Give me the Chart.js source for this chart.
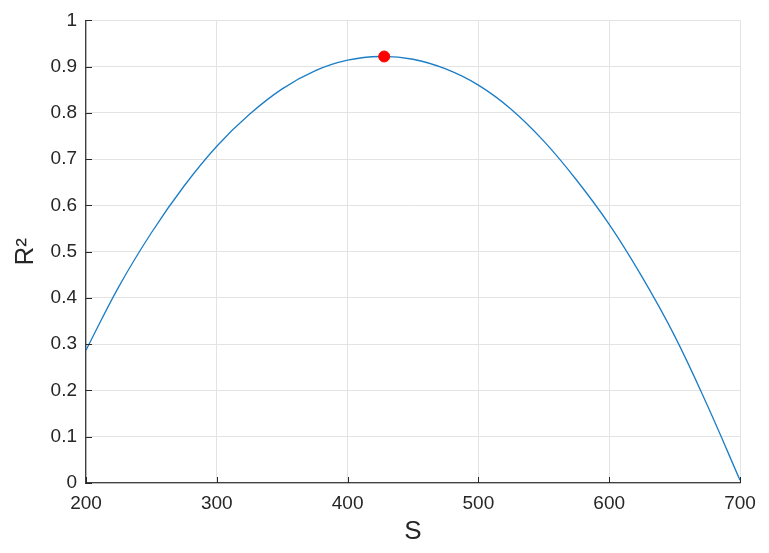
<!DOCTYPE html>
<html>
<head>
<meta charset="utf-8">
<script src="https://cdn.jsdelivr.net/npm/chart.js@4"></script>
<style>
    html, body { margin: 0; padding: 0; background: #fff; }
    #chart { display: block; }
</style>
</head>
<body>
<canvas id="chart" width="769" height="553"></canvas>
<script>
// 曲線數據 (S, R^2)
const sValues = [200, 225, 250, 275, 300, 325, 350, 375, 400, 425, 450, 475, 500, 525, 550, 575, 600, 625, 650, 675, 700];
const r2Values = [0.287, 0.424, 0.541, 0.642, 0.728, 0.797, 0.852, 0.891, 0.914, 0.922, 0.916, 0.895, 0.860, 0.808, 0.739, 0.655, 0.559, 0.446, 0.318, 0.168, 0.006];
// 最大值點
const peakS = [428];
const peakR2 = [0.922];

const axisColor = '#262626';
const gridColor = '#e3e3e3';
const font = 'Arial, "Liberation Sans", Helvetica, sans-serif';

// MATLAB 風格的內側刻度
const innerTicks = {
    id: 'innerTicks',
    afterDraw(chart) {
        const ctx = chart.ctx;
        const x = chart.scales.x, y = chart.scales.y;
        ctx.save();
        ctx.strokeStyle = axisColor;
        ctx.lineWidth = 1;
        ctx.beginPath();
        x.ticks.forEach(t => {
            const px = Math.round(x.getPixelForValue(t.value)) + 0.5;
            ctx.moveTo(px, y.bottom);
            ctx.lineTo(px, y.bottom - 6);
        });
        y.ticks.forEach(t => {
            const py = Math.round(y.getPixelForValue(t.value)) + 0.5;
            ctx.moveTo(x.left, py);
            ctx.lineTo(x.left + 6, py);
        });
        ctx.stroke();
        ctx.restore();
    }
};

new Chart(document.getElementById('chart'), {
    type: 'scatter',
    data: {
        datasets: [{
            data: sValues.map((s, i) => ({ x: s, y: r2Values[i] })),
            showLine: true,
            borderColor: '#1a7dc6',
            borderWidth: 1.3,
            pointRadius: 0,
            tension: 0.4,
            order: 2
        }, {
            data: peakS.map((s, i) => ({ x: s, y: peakR2[i] })),
            backgroundColor: '#ff0000',
            borderColor: '#ff0000',
            pointRadius: 5.5,
            order: 1
        }]
    },
    options: {
        responsive: false,
        animation: false,
        layout: { padding: { top: 20, right: 29, left: 0, bottom: 0 } },
        plugins: {
            legend: { display: false },
            tooltip: { enabled: false }
        },
        scales: {
            x: {
                type: 'linear',
                min: 200,
                max: 700,
                afterFit: s => { s.height = 70; },
                ticks: {
                    stepSize: 100,
                    padding: 9,
                    color: axisColor,
                    font: { family: font, size: 19 }
                },
                grid: { color: gridColor, drawTicks: false },
                border: { color: '#404040', width: 1.3 },
                title: {
                    display: true,
                    text: 'S',
                    color: axisColor,
                    padding: { top: 0, bottom: 6 },
                    font: { family: font, size: 26 }
                }
            },
            y: {
                min: 0,
                max: 1,
                afterFit: s => { s.width = 86; },
                ticks: {
                    stepSize: 0.1,
                    padding: 9,
                    color: axisColor,
                    font: { family: font, size: 19 },
                    callback: v => String(+v.toFixed(1))
                },
                grid: { color: gridColor, drawTicks: false },
                border: { color: '#404040', width: 1.3 },
                title: {
                    display: true,
                    text: 'R²',
                    color: axisColor,
                    padding: { top: 10, bottom: 0 },
                    font: { family: font, size: 26 }
                }
            }
        }
    },
    plugins: [innerTicks]
});
</script>
</body>
</html>
